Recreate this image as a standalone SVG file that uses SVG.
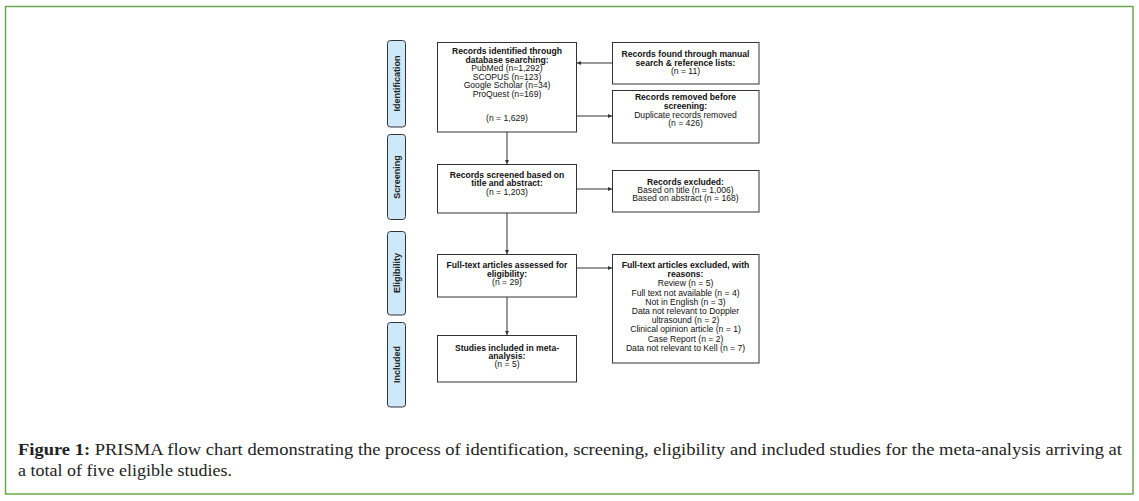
<svg xmlns="http://www.w3.org/2000/svg" width="1139" height="501" viewBox="0 0 1139 501">
<style>
.box{fill:#fff;stroke:#333;stroke-width:1}
.lab{fill:#cde8f8;stroke:#333;stroke-width:1}
.t{font-family:"Liberation Sans",Arial,sans-serif;font-size:8.6px;fill:#111;text-anchor:middle}
.b{font-weight:bold}
.side{font-family:"Liberation Sans",Arial,sans-serif;font-size:9px;font-weight:bold;fill:#222;text-anchor:middle}
.con{stroke:#333;stroke-width:1;fill:none;marker-end:url(#ah)}
.cap{font-family:"Liberation Serif","Times New Roman",serif;font-size:16.5px;fill:#222}
</style>
<defs>
<marker id="ah" viewBox="0 0 6 6" refX="6" refY="3" markerWidth="4" markerHeight="4" orient="auto" markerUnits="userSpaceOnUse">
<path d="M0,0 L6,3 L0,6 z" fill="#333"/>
</marker>
</defs>
<rect x="0" y="0" width="1139" height="501" fill="#fff"/>
<rect x="5.5" y="6.5" width="1127.5" height="487.5" fill="none" stroke="#6aa84f" stroke-width="1.5"/>

<g id="side-identification"><rect class="lab" x="387.5" y="40.5" width="18" height="86.5" rx="3"/><text class="side" transform="translate(399.5,83.5) rotate(-90)">Identification</text></g>
<g id="side-screening"><rect class="lab" x="387.5" y="134.5" width="18" height="85" rx="3"/><text class="side" transform="translate(399.5,177) rotate(-90)">Screening</text></g>
<g id="side-eligibility"><rect class="lab" x="387.5" y="231.5" width="18" height="83.5" rx="3"/><text class="side" transform="translate(399.5,273) rotate(-90)">Eligibility</text></g>
<g id="side-included"><rect class="lab" x="387.5" y="322.5" width="18" height="84.5" rx="3"/><text class="side" transform="translate(399.5,364.5) rotate(-90)">Included</text></g>

<g id="identified"><rect class="box" x="437.5" y="42.5" width="139" height="89.5"/>
<text class="t"><tspan class="b" x="507" y="54">Records identified through</tspan><tspan class="b" x="507" y="62.5">database searching:</tspan><tspan x="507" y="71">PubMed (n=1,292)</tspan><tspan x="507" y="79.5">SCOPUS (n=123)</tspan><tspan x="507" y="88">Google Scholar (n=34)</tspan><tspan x="507" y="96.5">ProQuest (n=169)</tspan><tspan x="507" y="121">(n = 1,629)</tspan></text></g>

<g id="manual"><rect class="box" x="612.5" y="42.5" width="146.5" height="41.5"/>
<text class="t"><tspan class="b" x="685.5" y="57">Records found through manual</tspan><tspan class="b" x="685.5" y="65.5">search &amp; reference lists:</tspan><tspan x="685.5" y="74">(n = 11)</tspan></text></g>

<g id="removed"><rect class="box" x="612.5" y="90.5" width="146.5" height="52.5"/>
<text class="t"><tspan class="b" x="685.5" y="100">Records removed before</tspan><tspan class="b" x="685.5" y="109">screening:</tspan><tspan x="685.5" y="117.5">Duplicate records removed</tspan><tspan x="685.5" y="125.5">(n = 426)</tspan></text></g>

<g id="screened"><rect class="box" x="437.5" y="164.5" width="139" height="48.5"/>
<text class="t"><tspan class="b" x="507" y="177.5">Records screened based on</tspan><tspan class="b" x="507" y="186">title and abstract:</tspan><tspan x="507" y="194.5">(n = 1,203)</tspan></text></g>

<g id="excluded"><rect class="box" x="612.5" y="170.5" width="146.5" height="41.5"/>
<text class="t"><tspan class="b" x="685.5" y="185">Records excluded:</tspan><tspan x="685.5" y="193">Based on title (n = 1,006)</tspan><tspan x="685.5" y="201">Based on abstract (n = 168)</tspan></text></g>

<g id="eligibility"><rect class="box" x="437.5" y="254.5" width="139" height="42.5"/>
<text class="t"><tspan class="b" x="507" y="268">Full-text articles assessed for</tspan><tspan class="b" x="507" y="276.5">eligibility:</tspan><tspan x="507" y="284.5">(n = 29)</tspan></text></g>

<g id="fulltext-excluded"><rect class="box" x="612.5" y="254.5" width="146.5" height="108.5"/>
<text class="t"><tspan class="b" x="685.5" y="268">Full-text articles excluded, with</tspan><tspan class="b" x="685.5" y="277.2">reasons:</tspan><tspan x="685.5" y="286.4">Review (n = 5)</tspan><tspan x="685.5" y="295.6">Full text not available (n = 4)</tspan><tspan x="685.5" y="304.8">Not in English (n = 3)</tspan><tspan x="685.5" y="314">Data not relevant to Doppler</tspan><tspan x="685.5" y="323.2">ultrasound (n = 2)</tspan><tspan x="685.5" y="332.4">Clinical opinion article (n = 1)</tspan><tspan x="685.5" y="341.6">Case Report (n = 2)</tspan><tspan x="685.5" y="350.8">Data not relevant to Kell (n = 7)</tspan></text></g>

<g id="included"><rect class="box" x="437.5" y="335.5" width="139" height="46.5"/>
<text class="t"><tspan class="b" x="507" y="350.5">Studies included in meta-</tspan><tspan class="b" x="507" y="359">analysis:</tspan><tspan x="507" y="367">(n = 5)</tspan></text></g>

<g id="connectors">
<line class="con" x1="612.5" y1="63" x2="577" y2="63"/>
<line class="con" x1="576.5" y1="116" x2="612" y2="116"/>
<line class="con" x1="507" y1="132" x2="507" y2="164"/>
<line class="con" x1="576.5" y1="189" x2="612" y2="189"/>
<line class="con" x1="507" y1="213" x2="507" y2="254"/>
<line class="con" x1="576.5" y1="268" x2="612" y2="268"/>
<line class="con" x1="507" y1="297" x2="507" y2="335"/>
</g>

<text class="cap" x="18" y="455" textLength="1104" lengthAdjust="spacingAndGlyphs"><tspan font-weight="bold">Figure 1:</tspan> PRISMA flow chart demonstrating the process of identification, screening, eligibility and included studies for the meta-analysis arriving at</text>
<text class="cap" x="18" y="476" textLength="214" lengthAdjust="spacingAndGlyphs">a total of five eligible studies.</text>
</svg>
